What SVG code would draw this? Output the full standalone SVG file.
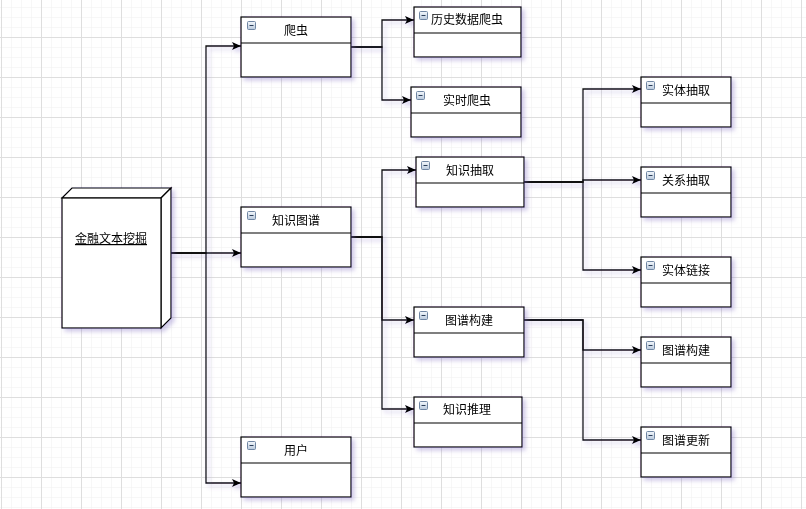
<svg xmlns="http://www.w3.org/2000/svg" width="806" height="509" viewBox="0 0 806 509">
<defs>
<pattern id="minor" width="10" height="10" patternUnits="userSpaceOnUse" x="1" y="7">
<path d="M0 0H10M0 0V10" fill="none" stroke="#f0f0f0" stroke-width="1"/>
</pattern>
<pattern id="major" width="40" height="40" patternUnits="userSpaceOnUse" x="1" y="37">
<path d="M0 0.5H40M0.5 0V40" fill="none" stroke="#dedede" stroke-width="1"/>
</pattern>
<filter id="sh" x="-20%" y="-20%" width="140%" height="150%">
<feDropShadow dx="3" dy="3" stdDeviation="2" flood-color="#7a68c0" flood-opacity="0.35"/>
</filter>
<linearGradient id="ig" x1="0" y1="0" x2="0" y2="1">
<stop offset="0" stop-color="#f4f8fc"/>
<stop offset="1" stop-color="#b8c8dc"/>
</linearGradient>
<marker id="arr" markerWidth="10" markerHeight="10" refX="9" refY="5" orient="auto" markerUnits="userSpaceOnUse">
<path d="M0 1 L9 5 L0 9 L2 5 Z" fill="#000"/>
</marker>
<symbol id="icon" overflow="visible">
<rect x="0.5" y="0.5" width="8" height="8" rx="1" fill="url(#ig)" stroke="#6f86a3" stroke-width="1"/>
<line x1="2.5" y1="4.5" x2="6.5" y2="4.5" stroke="#2c3e58" stroke-width="1"/>
</symbol>
</defs>
<style>
.n{fill:#fff;stroke:#000;stroke-width:1.2}
.d{stroke:#000;stroke-width:1.2}
.t{font-family:"Noto Sans CJK SC","Liberation Sans",sans-serif;font-size:12px;fill:#000}
.c{fill:none;stroke:#111;stroke-width:1.3;marker-end:url(#arr)}
</style>
<rect width="806" height="509" fill="#fff"/>
<rect width="806" height="509" fill="url(#minor)"/>
<rect width="806" height="509" fill="url(#major)"/>

<g id="connectors" filter="url(#sh)">
<path class="c" d="M171 253 H206 V46 H241"/>
<path class="c" d="M171 253 H241"/>
<path class="c" d="M171 253 H206 V483 H241"/>
<path class="c" d="M351 47 H382 V20 H414"/>
<path class="c" d="M351 47 H382 V100 H411"/>
<path class="c" d="M351 237 H382 V170 H416"/>
<path class="c" d="M351 237 H382 V320 H414"/>
<path class="c" d="M351 237 H382 V409 H414"/>
<path class="c" d="M524 182 H583 V89 H641"/>
<path class="c" d="M524 182 H583 V180 H641"/>
<path class="c" d="M524 182 H583 V270 H641"/>
<path class="c" d="M524 320 H583 V350 H641"/>
<path class="c" d="M524 320 H583 V440 H641"/>
</g>

<g id="main" filter="url(#sh)">
<polygon points="62,198 72,188 171,188 161,198" class="n"/>
<polygon points="161,198 171,188 171,318 161,328" class="n"/>
<rect x="62" y="198" width="99" height="130" class="n"/>
<text x="111" y="243" class="t" text-anchor="middle" text-decoration="underline">金融文本挖掘</text>
</g>

<g id="pachong" filter="url(#sh)">
<rect x="241" y="17" width="110" height="60" class="n"/>
<line x1="241" y1="43" x2="351" y2="43" class="d"/>
<use href="#icon" x="247" y="21"/>
<text x="296" y="35" class="t" text-anchor="middle">爬虫</text>
</g>

<g id="lishi" filter="url(#sh)">
<rect x="414" y="7" width="107" height="50" class="n"/>
<line x1="414" y1="33" x2="521" y2="33" class="d"/>
<use href="#icon" x="419" y="11"/>
<text x="467" y="24" class="t" text-anchor="middle">历史数据爬虫</text>
</g>

<g id="shishi" filter="url(#sh)">
<rect x="411" y="87" width="110" height="50" class="n"/>
<line x1="411" y1="113" x2="521" y2="113" class="d"/>
<use href="#icon" x="416" y="91"/>
<text x="467" y="105" class="t" text-anchor="middle">实时爬虫</text>
</g>

<g id="zhishitupu" filter="url(#sh)">
<rect x="241" y="207" width="110" height="60" class="n"/>
<line x1="241" y1="233" x2="351" y2="233" class="d"/>
<use href="#icon" x="247" y="211"/>
<text x="296" y="225" class="t" text-anchor="middle">知识图谱</text>
</g>

<g id="yonghu" filter="url(#sh)">
<rect x="241" y="437" width="110" height="60" class="n"/>
<line x1="241" y1="463" x2="351" y2="463" class="d"/>
<use href="#icon" x="247" y="441"/>
<text x="296" y="455" class="t" text-anchor="middle">用户</text>
</g>

<g id="zhishichouqu" filter="url(#sh)">
<rect x="416" y="157" width="108" height="50" class="n"/>
<line x1="416" y1="183" x2="524" y2="183" class="d"/>
<use href="#icon" x="421" y="161"/>
<text x="470" y="175" class="t" text-anchor="middle">知识抽取</text>
</g>

<g id="tupugoujian" filter="url(#sh)">
<rect x="414" y="307" width="110" height="50" class="n"/>
<line x1="414" y1="333" x2="524" y2="333" class="d"/>
<use href="#icon" x="419" y="311"/>
<text x="469" y="325" class="t" text-anchor="middle">图谱构建</text>
</g>

<g id="zhishituili" filter="url(#sh)">
<rect x="414" y="397" width="108" height="50" class="n"/>
<line x1="414" y1="423" x2="522" y2="423" class="d"/>
<use href="#icon" x="419" y="401"/>
<text x="467" y="414" class="t" text-anchor="middle">知识推理</text>
</g>

<g id="shitichouqu" filter="url(#sh)">
<rect x="641" y="77" width="90" height="50" class="n"/>
<line x1="641" y1="103" x2="731" y2="103" class="d"/>
<use href="#icon" x="646" y="81"/>
<text x="686" y="95" class="t" text-anchor="middle">实体抽取</text>
</g>

<g id="guanxichouqu" filter="url(#sh)">
<rect x="641" y="167" width="90" height="50" class="n"/>
<line x1="641" y1="193" x2="731" y2="193" class="d"/>
<use href="#icon" x="646" y="171"/>
<text x="686" y="185" class="t" text-anchor="middle">关系抽取</text>
</g>

<g id="shitilianjie" filter="url(#sh)">
<rect x="641" y="257" width="90" height="50" class="n"/>
<line x1="641" y1="283" x2="731" y2="283" class="d"/>
<use href="#icon" x="646" y="261"/>
<text x="686" y="275" class="t" text-anchor="middle">实体链接</text>
</g>

<g id="tupugoujian2" filter="url(#sh)">
<rect x="641" y="337" width="90" height="50" class="n"/>
<line x1="641" y1="363" x2="731" y2="363" class="d"/>
<use href="#icon" x="646" y="341"/>
<text x="686" y="355" class="t" text-anchor="middle">图谱构建</text>
</g>

<g id="tupugengxin" filter="url(#sh)">
<rect x="641" y="427" width="90" height="50" class="n"/>
<line x1="641" y1="453" x2="731" y2="453" class="d"/>
<use href="#icon" x="646" y="431"/>
<text x="686" y="445" class="t" text-anchor="middle">图谱更新</text>
</g>
</svg>
